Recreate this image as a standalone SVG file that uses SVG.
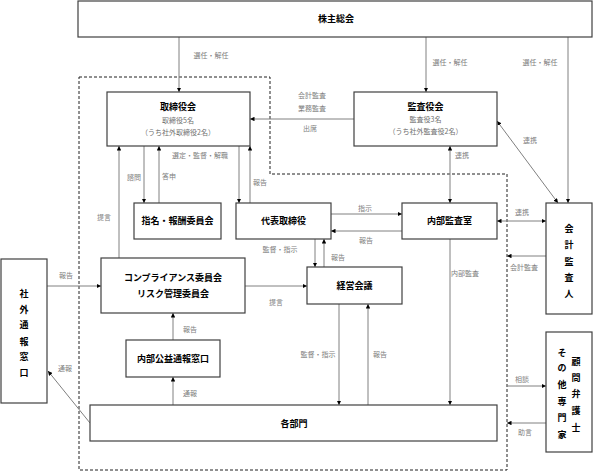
<svg xmlns="http://www.w3.org/2000/svg" width="593" height="471" viewBox="0 0 593 471">
<defs>
<style>
.box{fill:#fff;stroke:#404040;stroke-width:1.2}
.ln{stroke:#808080;stroke-width:1;fill:none}
.dash{stroke:#202020;stroke-width:1;fill:none;stroke-dasharray:3 2}
.t{font-family:"Noto Sans CJK JP","Noto Sans CJK SC",sans-serif;font-size:9px;font-weight:bold;fill:#000;text-anchor:middle}
.s{font-family:"Noto Sans CJK JP","Noto Sans CJK SC",sans-serif;font-size:7px;fill:#707070;text-anchor:middle}
.lb{font-family:"Noto Sans CJK JP","Noto Sans CJK SC",sans-serif;font-size:7px;fill:#808080;text-anchor:middle}
</style>
<marker id="a" viewBox="0 0 6 6" refX="6" refY="3" markerWidth="4.5" markerHeight="4.5" orient="auto-start-reverse" markerUnits="userSpaceOnUse"><path d="M0,0 L6,3 L0,6z" fill="#000"/></marker>
</defs>
<rect width="593" height="471" fill="#fff"/>
<path class="dash" d="M79,77 H270 V174 H507 V470 H79 Z"/>

<g id="connectors">
<path class="ln" d="M179,37 V92" marker-end="url(#a)"/>
<path class="ln" d="M426,37 V92" marker-end="url(#a)"/>
<path class="ln" d="M568,37 V203" marker-end="url(#a)"/>
<path class="ln" d="M354,119 H250" marker-end="url(#a)"/>
<path class="ln" d="M497,121 L558,203" marker-start="url(#a)" marker-end="url(#a)"/>
<path class="ln" d="M450,146 V203" marker-start="url(#a)" marker-end="url(#a)"/>
<path class="ln" d="M497,221 H546" marker-start="url(#a)" marker-end="url(#a)"/>
<path class="ln" d="M546,256 H507" marker-end="url(#a)"/>
<path class="ln" d="M119,258 V146" marker-end="url(#a)"/>
<path class="ln" d="M144,146 V203" marker-end="url(#a)"/>
<path class="ln" d="M159,203 V146" marker-end="url(#a)"/>
<path class="ln" d="M239,146 V203" marker-end="url(#a)"/>
<path class="ln" d="M250,203 V146" marker-end="url(#a)"/>
<path class="ln" d="M331,214 H402" marker-end="url(#a)"/>
<path class="ln" d="M402,231 H331" marker-end="url(#a)"/>
<path class="ln" d="M315,239 V267" marker-end="url(#a)"/>
<path class="ln" d="M324,267 V239" marker-end="url(#a)"/>
<path class="ln" d="M245,286 H307" marker-end="url(#a)"/>
<path class="ln" d="M47,286 H101" marker-end="url(#a)"/>
<path class="ln" d="M173,340 V313" marker-end="url(#a)"/>
<path class="ln" d="M173,405 V377" marker-end="url(#a)"/>
<path class="ln" d="M90,423 L48,371" marker-end="url(#a)"/>
<path class="ln" d="M339,304 V405" marker-end="url(#a)"/>
<path class="ln" d="M368,405 V304" marker-end="url(#a)"/>
<path class="ln" d="M450,239 V405" marker-end="url(#a)"/>
<path class="ln" d="M507,386 H546" marker-end="url(#a)"/>
<path class="ln" d="M546,423 H507" marker-end="url(#a)"/>
</g>

<g id="labels">
<text class="lb" x="211" y="58">選任・解任</text>
<text class="lb" x="450" y="65">選任・解任</text>
<text class="lb" x="540" y="65">選任・解任</text>
<text class="lb" x="312" y="98">会計監査</text>
<text class="lb" x="312" y="111">業務監査</text>
<text class="lb" x="310" y="131">出席</text>
<text class="lb" x="530" y="143">連携</text>
<text class="lb" x="462" y="158">連携</text>
<text class="lb" x="522" y="215">連携</text>
<text class="lb" x="524" y="270">会計監査</text>
<text class="lb" x="200" y="158">選定・監督・解職</text>
<text class="lb" x="134" y="180">諮問</text>
<text class="lb" x="169" y="179">答申</text>
<text class="lb" x="260" y="185">報告</text>
<text class="lb" x="104" y="220">提言</text>
<text class="lb" x="365" y="211">指示</text>
<text class="lb" x="366" y="243">報告</text>
<text class="lb" x="280" y="252">監督・指示</text>
<text class="lb" x="338" y="260">報告</text>
<text class="lb" x="465" y="276">内部監査</text>
<text class="lb" x="66" y="278">報告</text>
<text class="lb" x="276" y="305">提言</text>
<text class="lb" x="190" y="332">報告</text>
<text class="lb" x="190" y="396">通報</text>
<text class="lb" x="65" y="371">通報</text>
<text class="lb" x="318" y="357">監督・指示</text>
<text class="lb" x="380" y="357">報告</text>
<text class="lb" x="522" y="382">相談</text>
<text class="lb" x="525" y="435">助言</text>
</g>

<g id="shareholders">
<rect class="box" x="78" y="1" width="514" height="36"/>
<text class="t" x="336" y="22">株主総会</text>
</g>
<g id="board">
<rect class="box" x="107" y="92" width="143" height="54"/>
<text class="t" x="178" y="110">取締役会</text>
<text class="s" x="178" y="123">取締役5名</text>
<text class="s" x="178" y="135">（うち社外取締役2名）</text>
</g>
<g id="auditors">
<rect class="box" x="354" y="92" width="143" height="54"/>
<text class="t" x="425.5" y="110">監査役会</text>
<text class="s" x="425.5" y="122">監査役3名</text>
<text class="s" x="425.5" y="134">（うち社外監査役2名）</text>
</g>
<g id="nomination">
<rect class="box" x="134" y="203" width="87" height="36"/>
<text class="t" x="177.5" y="224">指名・報酬委員会</text>
</g>
<g id="ceo">
<rect class="box" x="236" y="203" width="95" height="36"/>
<text class="t" x="283.5" y="224">代表取締役</text>
</g>
<g id="internal-audit">
<rect class="box" x="402" y="203" width="95" height="36"/>
<text class="t" x="449.5" y="224">内部監査室</text>
</g>
<g id="accounting-auditor">
<rect class="box" x="546" y="203" width="46" height="111"/>
<text class="t" x="569" y="232">会</text>
<text class="t" x="569" y="248">計</text>
<text class="t" x="569" y="265">監</text>
<text class="t" x="569" y="281">査</text>
<text class="t" x="569" y="297">人</text>
</g>
<g id="compliance">
<rect class="box" x="101" y="258" width="144" height="55"/>
<text class="t" x="173" y="281">コンプライアンス委員会</text>
<text class="t" x="173" y="297">リスク管理委員会</text>
</g>
<g id="management">
<rect class="box" x="307" y="267" width="95" height="37"/>
<text class="t" x="354.5" y="289">経営会議</text>
</g>
<g id="external-whistle">
<rect class="box" x="1" y="259" width="46" height="144"/>
<text class="t" x="24" y="297">社</text>
<text class="t" x="24" y="313">外</text>
<text class="t" x="24" y="328">通</text>
<text class="t" x="24" y="345">報</text>
<text class="t" x="24" y="360">窓</text>
<text class="t" x="24" y="376">口</text>
</g>
<g id="internal-whistle">
<rect class="box" x="126" y="340" width="94" height="37"/>
<text class="t" x="173" y="362">内部公益通報窓口</text>
</g>
<g id="departments">
<rect class="box" x="90" y="405" width="407" height="36"/>
<text class="t" x="294" y="427">各部門</text>
</g>
<g id="advisors">
<rect class="box" x="546" y="332" width="46" height="120"/>
<text class="t" x="576" y="365">顧</text>
<text class="t" x="576" y="381">問</text>
<text class="t" x="576" y="397">弁</text>
<text class="t" x="576" y="414">護</text>
<text class="t" x="576" y="431">士</text>
<text class="t" x="562" y="356">そ</text>
<text class="t" x="562" y="371">の</text>
<text class="t" x="562" y="388">他</text>
<text class="t" x="562" y="405">専</text>
<text class="t" x="562" y="421">門</text>
<text class="t" x="562" y="438">家</text>
</g>
</svg>
